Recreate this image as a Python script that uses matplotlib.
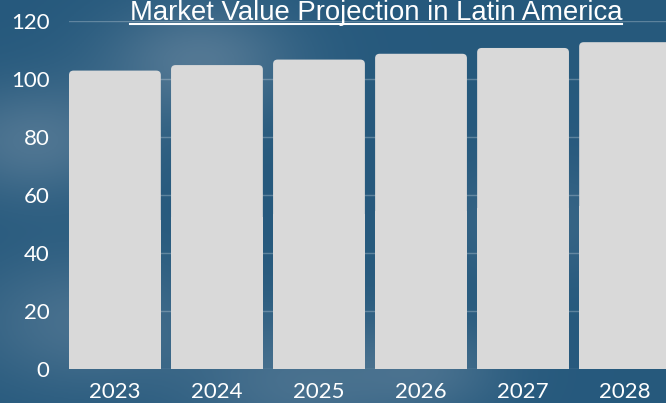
import numpy as np
import matplotlib
matplotlib.use("Agg")
import matplotlib.pyplot as plt
from matplotlib.patches import FancyBboxPatch
from matplotlib.lines import Line2D

# chart data
years = ["2023", "2024", "2025", "2026", "2027", "2028"]
market_value = [102.9, 104.8, 106.7, 108.7, 110.7, 112.7]
y_ticks = [0, 20, 40, 60, 80, 100, 120]
title = "Market Value Projection in Latin America"

BAR_COLOR = "#d9d9d9"
TEXT_COLOR = "white"

fig = plt.figure(figsize=(6.66, 4.03), dpi=100)

# background: dark blue sky with a few soft lighter patches (stand-in for the photo)
bg = fig.add_axes([0, 0, 1, 1], zorder=-5)
gx, gy = np.meshgrid(np.linspace(0, 1, 333), np.linspace(0, 1, 202))
base = np.array([0.15, 0.35, 0.49])
light = np.array([0.44, 0.55, 0.64])
w = np.zeros_like(gx)
for cx, cy, s, a in [(0.05, 0.35, 0.10, 0.55), (0.30, 0.15, 0.10, 0.6),
                     (0.12, 0.80, 0.12, 0.45), (0.45, 0.95, 0.12, 0.45),
                     (0.65, 0.92, 0.08, 0.35), (0.80, 0.55, 0.10, 0.25)]:
    w += a * np.exp(-((gx - cx) ** 2 + (gy - cy) ** 2) / (2 * s ** 2))
w = np.clip(w, 0, 1)[..., None]
img = base * (1 - w) + light * w
bg.imshow(img, aspect="auto", extent=[0, 1, 1, 0])
bg.axis("off")

ax = fig.add_axes([69 / 666, 34 / 403, 602 / 666, 348 / 403])
ax.patch.set_alpha(0)

x = np.arange(len(years))
bar_w = 0.9
# lower part as plain bars, rounded top via FancyBboxPatch
ax.bar(x, [v / 2 for v in market_value], width=bar_w, color=BAR_COLOR, zorder=2)
for xi, v in zip(x, market_value):
    ax.add_patch(FancyBboxPatch((xi - bar_w / 2, 0), bar_w, v,
                                boxstyle="round,pad=0,rounding_size=0.045",
                                mutation_aspect=34, fc=BAR_COLOR, ec="none", zorder=2))

ax.set_xlim(-0.45, 5.45)
ax.set_ylim(0, 120)
ax.set_xticks(x)
ax.set_xticklabels(years)
ax.set_yticks(y_ticks)
ax.grid(axis="y", color="white", alpha=0.25, lw=1, zorder=0)
ax.set_axisbelow(True)
for s in ax.spines.values():
    s.set_visible(False)
ax.tick_params(length=0, colors=TEXT_COLOR, labelsize=16)
ax.tick_params(axis="y", pad=14)
ax.tick_params(axis="x", pad=9)
for lab in ax.get_xticklabels() + ax.get_yticklabels():
    lab.set_fontfamily("Lato")

# underlined title
t = fig.text(376 / 666, 1 - 19.5 / 403, title, ha="center", va="baseline",
             fontsize=19.8, color=TEXT_COLOR, family="Liberation Sans")
fig.canvas.draw()
bb = t.get_window_extent(fig.canvas.get_renderer())
uy = 1 - 23.5 / 403
fig.add_artist(Line2D([bb.x0 / fig.bbox.width, bb.x1 / fig.bbox.width], [uy, uy],
                      color=TEXT_COLOR, lw=1.5))

fig.savefig("out.png", dpi=100)
